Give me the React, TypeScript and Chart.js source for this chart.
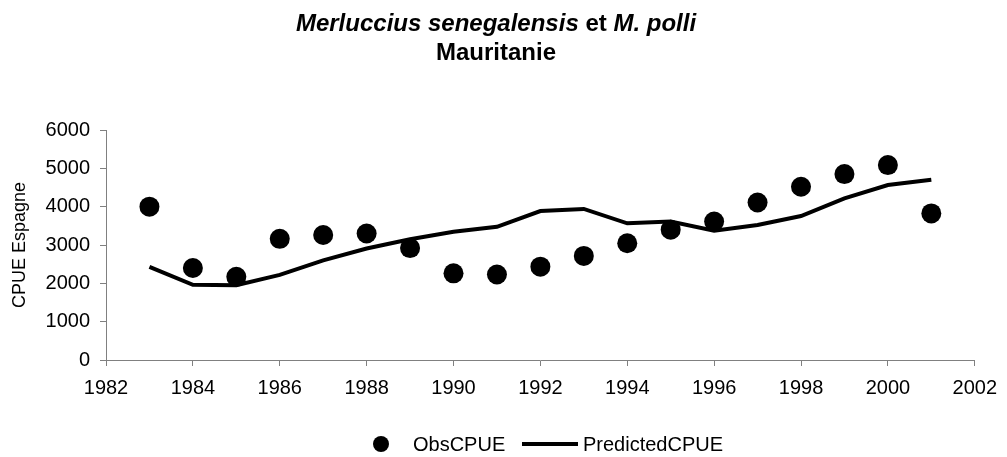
import React, { useEffect, useRef } from "react";
import { Chart, registerables } from "chart.js";

Chart.register(...registerables);

const years = [1983, 1984, 1985, 1986, 1987, 1988, 1989, 1990, 1991, 1992, 1993, 1994, 1995, 1996, 1997, 1998, 1999, 2000, 2001];
const obsCPUE = [4000, 2400, 2170, 3160, 3260, 3300, 2920, 2260, 2230, 2435, 2715, 3045, 3400, 3610, 4110, 4520, 4850, 5085, 3825];
const predictedCPUE = [2430, 1960, 1950, 2220, 2600, 2910, 3150, 3345, 3475, 3885, 3940, 3565, 3610, 3370, 3520, 3755, 4215, 4565, 4700];

const titleLine1: [string, boolean][] = [
  ["Merluccius senegalensis", true],
  [" et ", false],
  ["M. polli", true],
];
const titleLine2 = "Mauritanie";
const yAxisTitle = "CPUE Espagne";
const seriesNames = ["ObsCPUE", "PredictedCPUE"];

const FONT = "'Liberation Sans', Arial, Helvetica, sans-serif";

const titlePlugin = {
  id: "mixedTitle",
  afterDraw(chart: any) {
    const ctx = chart.ctx;
    const cx = 496;
    ctx.save();
    ctx.fillStyle = "#000";
    ctx.textBaseline = "alphabetic";
    ctx.textAlign = "left";
    const fontFor = (it: boolean) => `${it ? "italic " : ""}bold 24px ${FONT}`;
    let total = 0;
    for (const [t, it] of titleLine1) {
      ctx.font = fontFor(it);
      total += ctx.measureText(t).width;
    }
    let x = cx - total / 2;
    for (const [t, it] of titleLine1) {
      ctx.font = fontFor(it);
      ctx.fillText(t, x, 31);
      x += ctx.measureText(t).width;
    }
    ctx.font = fontFor(false);
    ctx.textAlign = "center";
    ctx.fillText(titleLine2, cx, 60);
    ctx.restore();
  },
};

const legendPlugin = {
  id: "customLegend",
  afterDraw(chart: any) {
    const ctx = chart.ctx;
    const ds = chart.data.datasets;
    const y = 444;
    ctx.save();
    ctx.font = `20px ${FONT}`;
    ctx.textBaseline = "middle";
    ctx.textAlign = "left";
    ctx.fillStyle = "#000";
    ctx.beginPath();
    ctx.arc(381, y, 8, 0, Math.PI * 2);
    ctx.fill();
    ctx.fillText(ds[0].label, 413, y + 1);
    ctx.strokeStyle = "#000";
    ctx.lineWidth = 4;
    ctx.beginPath();
    ctx.moveTo(522, y);
    ctx.lineTo(578, y);
    ctx.stroke();
    ctx.fillText(ds[1].label, 583, y + 1);
    ctx.restore();
  },
};

export default function App() {
  const ref = useRef<HTMLCanvasElement>(null);
  useEffect(() => {
    if (!ref.current) return;
    const chart = new Chart(ref.current, {
      type: "line",
      data: {
        datasets: [
          {
            label: seriesNames[0],
            data: years.map((yr, i) => ({ x: yr, y: obsCPUE[i] })),
            showLine: false,
            pointRadius: 10,
            pointHoverRadius: 10,
            pointBorderWidth: 0,
            pointBackgroundColor: "#000",
            borderColor: "#000",
            backgroundColor: "#000",
            order: 1,
          },
          {
            label: seriesNames[1],
            data: years.map((yr, i) => ({ x: yr, y: predictedCPUE[i] })),
            borderColor: "#000",
            backgroundColor: "#000",
            borderWidth: 4,
            pointRadius: 0,
            tension: 0,
            fill: false,
            order: 0,
          },
        ],
      },
      options: {
        responsive: false,
        animation: false,
        devicePixelRatio: 1,
        layout: { padding: { top: 130, right: 27, bottom: 0, left: 0 } },
        plugins: {
          legend: { display: false },
          title: { display: false },
          tooltip: { enabled: false },
        },
        scales: {
          x: {
            type: "linear",
            min: 1982,
            max: 2002,
            ticks: {
              stepSize: 2,
              color: "#000",
              font: { size: 20, family: FONT },
              padding: 10,
              maxRotation: 0,
              callback: (v: any) => String(v),
            },
            grid: { display: true, drawOnChartArea: false, drawTicks: true, tickLength: 6, color: "#808080" },
            border: { display: true, color: "#808080", width: 1 },
            afterFit: (s: any) => {
              s.height = 97;
            },
          },
          y: {
            min: 0,
            max: 6000,
            ticks: {
              stepSize: 1000,
              color: "#000",
              font: { size: 20, family: FONT },
              padding: 10,
              callback: (v: any) => String(v),
            },
            grid: { display: true, drawOnChartArea: false, drawTicks: true, tickLength: 6, color: "#808080" },
            border: { display: true, color: "#808080", width: 1 },
            title: {
              display: true,
              text: yAxisTitle,
              color: "#000",
              font: { size: 18, family: FONT },
              padding: { top: 9, bottom: 0 },
            },
            afterFit: (s: any) => {
              s.width = 106;
            },
          },
        },
      },
      plugins: [titlePlugin, legendPlugin],
    });
    return () => chart.destroy();
  }, []);
  return (
    <div style={{ position: "absolute", left: 0, top: 0, width: 1007, height: 457, background: "#fff" }}>
      <canvas ref={ref} width={1007} height={457} />
    </div>
  );
}
